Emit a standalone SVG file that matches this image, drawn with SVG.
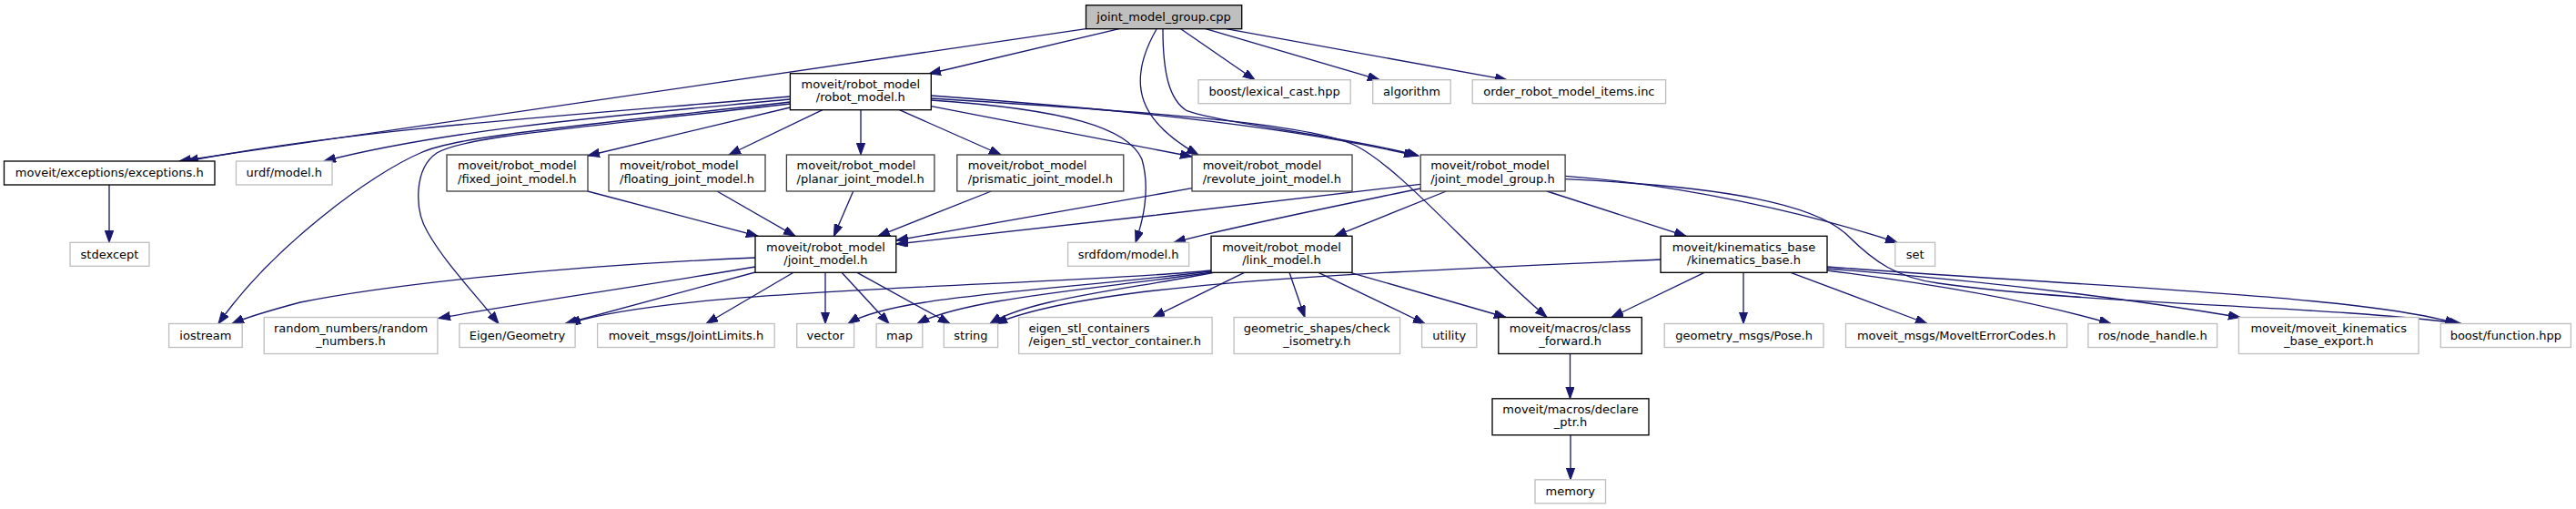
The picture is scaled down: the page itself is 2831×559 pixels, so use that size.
<svg xmlns="http://www.w3.org/2000/svg" width="2831" height="559" viewBox="0 0 2831 559">
<style>
rect{fill:#fff;stroke:#000;stroke-width:1.33}
.g rect{stroke:#bfbfbf}
.d rect{stroke:#404040}
.root rect{fill:#bfbfbf}
text{font-family:"DejaVu Sans","Liberation Sans",sans-serif;font-size:13px;fill:#000}
.m text{text-anchor:middle}
#edges path{fill:none;stroke:#191970;stroke-width:1.33;marker-end:url(#ah)}
</style>
<defs>
<marker id="ah" markerUnits="userSpaceOnUse" markerWidth="14" markerHeight="10" refX="13" refY="4.7" orient="auto">
<path d="M0,0 L13,4.7 L0,9.4 z" fill="#191970" stroke="#191970" stroke-width="1"/>
</marker>
</defs>
<rect x="0" y="0" width="2831" height="559" style="fill:#fff;stroke:none"/>
<g id="edges">
<path d="M1193.5,31.7 L197,177"/>
<path d="M1230,31.7 L1021,81"/>
<path d="M1271,32 C1235,95 1255,135 1317,170"/>
<path d="M1278,32 C1278,80 1285,110 1304.5,121.7 C1340,135 1480,150 1559,171"/>
<path d="M1297.7,31.7 L1379,87.7"/>
<path d="M1325,31.7 L1516,87.7"/>
<path d="M1347.5,31.7 L1656,87.7"/>
<path d="M868.4,106 C650,125 400,140 205,177"/>
<path d="M868.4,109 C700,125 500,140 356,177"/>
<path d="M868.4,112 C620,140 500,150 462,168 C410,190 300,270 240,355.5"/>
<path d="M868.4,114 C620,142 510,150 480,168 C455,185 455,230 470,255 C490,290 520,320 548,355.5"/>
<path d="M868.4,118 L646,171"/>
<path d="M904,120.7 L801,170"/>
<path d="M946,120.7 L946,170"/>
<path d="M988.4,120.7 L1100,170"/>
<path d="M1023.3,116.7 L1310,172"/>
<path d="M1023.3,105 C1200,118 1400,135 1556,171"/>
<path d="M1023.3,108 C1250,122 1440,135 1490,160 C1540,185 1620,280 1700,348.5"/>
<path d="M1023.3,110 C1170,120 1240,140 1255,175 C1265,210 1255,245 1248,266.3"/>
<path d="M120,203 L120,266.3"/>
<path d="M645.7,210 L833,259.3"/>
<path d="M788,210 L874,259.3"/>
<path d="M937.7,210 L916.4,259.3"/>
<path d="M1089.4,210 L965,259.3"/>
<path d="M1310,206.7 L985,264"/>
<path d="M1561.2,202.3 C1400,222 1150,250 985,268"/>
<path d="M1561.2,207 C1450,230 1350,250 1290,266.3"/>
<path d="M1589.4,210 L1467,259.3"/>
<path d="M1700,210 L1853,259.3"/>
<path d="M1720,193.3 C1850,203 1990,235 2085,266.3"/>
<path d="M1720,196.7 C1900,205 1995,225 2030,258 C2060,288 2085,305 2130,311 C2300,335 2550,335 2705,355.5"/>
<path d="M2008,293 C2300,315 2600,325 2700,355.5"/>
<path d="M2008,295 C2200,310 2350,330 2462,348.5"/>
<path d="M2008,297 C2150,315 2250,335 2320,355.5"/>
<path d="M1968,299.3 L2118,355.5"/>
<path d="M1916,299.3 L1916,355.5"/>
<path d="M1873,299.3 L1771,348.5"/>
<path d="M1825,285 C1500,300 1200,310 1094,355.5"/>
<path d="M1331,297 C1150,315 750,315 625,355.5"/>
<path d="M1331,298 C1150,320 980,325 932,355.5"/>
<path d="M1333,299 C1200,318 1060,328 1008,355.5"/>
<path d="M1335,299 C1240,318 1130,328 1088,355.5"/>
<path d="M1367.5,299.3 L1267,348.5"/>
<path d="M1417,299.3 L1434,348.5"/>
<path d="M1449,299.3 L1566,355.5"/>
<path d="M1484,299.3 L1655,348.5"/>
<path d="M830,283 C620,292 430,312 330,332 C300,340 272,348 255,355.5"/>
<path d="M830,293 C700,315 560,335 482,349.5"/>
<path d="M830,299 L621,355.5"/>
<path d="M872,299.3 L776,355.5"/>
<path d="M907,299.3 L907,355.5"/>
<path d="M925,299.3 L977,355.5"/>
<path d="M942,299.3 L1044,355.5"/>
<path d="M1725.5,388.5 L1725.5,437.8"/>
<path d="M1726,477.8 L1726,526.8"/>
</g>
<g id="n_cpp" class="root m"><rect x="1193.5" y="5.7" width="171.2" height="26"/><text x="1279.1" y="22.9">joint_model_group.cpp</text></g>
<g id="n_robot_model" class="m"><rect x="868.4" y="80.7" width="154.9" height="40"/><text x="945.85" y="96.9">moveit/robot_model</text><text x="945.85" y="111.2">/robot_model.h</text></g>
<g id="n_lexical" class="g m"><rect x="1317" y="87.7" width="167.2" height="26"/><text x="1400.6" y="104.9">boost/lexical_cast.hpp</text></g>
<g id="n_algorithm" class="g m"><rect x="1508.7" y="87.7" width="85.5" height="26"/><text x="1551.45" y="104.9">algorithm</text></g>
<g id="n_order" class="g m"><rect x="1618.2" y="87.7" width="212.4" height="26"/><text x="1724.4" y="104.9">order_robot_model_items.inc</text></g>
<g id="n_exceptions" class="m"><rect x="4.5" y="177" width="231.5" height="26"/><text x="120.25" y="194.2">moveit/exceptions/exceptions.h</text></g>
<g id="n_urdf" class="g m"><rect x="259.5" y="177" width="105.5" height="26"/><text x="312.25" y="194.2">urdf/model.h</text></g>
<g id="n_fixed" class="d"><rect x="491" y="170" width="155" height="40"/><text x="503" y="186.2">moveit/robot_model</text><text x="503" y="200.5">/fixed_joint_model.h</text></g>
<g id="n_floating" class="d"><rect x="669" y="170" width="172" height="40"/><text x="681" y="186.2">moveit/robot_model</text><text x="681" y="200.5">/floating_joint_model.h</text></g>
<g id="n_planar" class="d"><rect x="864.4" y="170" width="162.5" height="40"/><text x="875.6" y="186.2">moveit/robot_model</text><text x="875.6" y="200.5">/planar_joint_model.h</text></g>
<g id="n_prismatic" class="d"><rect x="1051.8" y="170" width="183" height="40"/><text x="1063.7" y="186.2">moveit/robot_model</text><text x="1063.7" y="200.5">/prismatic_joint_model.h</text></g>
<g id="n_revolute" class="d"><rect x="1310" y="170" width="176" height="40"/><text x="1321.7" y="186.2">moveit/robot_model</text><text x="1321.7" y="200.5">/revolute_joint_model.h</text></g>
<g id="n_jmg" class="d"><rect x="1561.2" y="170" width="158.9" height="40"/><text x="1572.2" y="186.2">moveit/robot_model</text><text x="1572.2" y="200.5">/joint_model_group.h</text></g>
<g id="n_stdexcept" class="g m"><rect x="77" y="266.3" width="87" height="26"/><text x="120.5" y="283.5">stdexcept</text></g>
<g id="n_joint_model" class="m"><rect x="830" y="259.3" width="154.8" height="40"/><text x="907.4" y="275.5">moveit/robot_model</text><text x="907.4" y="289.8">/joint_model.h</text></g>
<g id="n_srdfdom" class="g m"><rect x="1173.6" y="266.3" width="133.1" height="26"/><text x="1240.15" y="283.5">srdfdom/model.h</text></g>
<g id="n_link_model" class="m"><rect x="1331" y="259.3" width="155" height="40"/><text x="1408.5" y="275.5">moveit/robot_model</text><text x="1408.5" y="289.8">/link_model.h</text></g>
<g id="n_kinematics" class="m"><rect x="1825" y="259.3" width="183" height="40"/><text x="1916.5" y="275.5">moveit/kinematics_base</text><text x="1916.5" y="289.8">/kinematics_base.h</text></g>
<g id="n_set" class="g m"><rect x="2082.8" y="266.3" width="43.8" height="26"/><text x="2104.7" y="283.5">set</text></g>
<g id="n_iostream" class="g m"><rect x="185.6" y="355.5" width="80.6" height="26"/><text x="225.9" y="372.7">iostream</text></g>
<g id="n_random" class="g m"><rect x="290.2" y="348.5" width="190.7" height="40"/><text x="385.55" y="364.7">random_numbers/random</text><text x="385.55" y="379">_numbers.h</text></g>
<g id="n_eigen" class="g m"><rect x="504.9" y="355.5" width="127.2" height="26"/><text x="568.5" y="372.7">Eigen/Geometry</text></g>
<g id="n_jointlimits" class="g m"><rect x="656.6" y="355.5" width="194.6" height="26"/><text x="753.9" y="372.7">moveit_msgs/JointLimits.h</text></g>
<g id="n_vector" class="g m"><rect x="875.7" y="355.5" width="62.9" height="26"/><text x="907.15" y="372.7">vector</text></g>
<g id="n_map" class="g m"><rect x="963.1" y="355.5" width="50.7" height="26"/><text x="988.45" y="372.7">map</text></g>
<g id="n_string" class="g m"><rect x="1037.3" y="355.5" width="59.3" height="26"/><text x="1066.95" y="372.7">string</text></g>
<g id="n_eigen_stl" class="g"><rect x="1119.7" y="348.5" width="212.4" height="40"/><text x="1130.5" y="364.7">eigen_stl_containers</text><text x="1130.5" y="379">/eigen_stl_vector_container.h</text></g>
<g id="n_geometric" class="g m"><rect x="1356.1" y="348.5" width="182.5" height="40"/><text x="1447.35" y="364.7">geometric_shapes/check</text><text x="1447.35" y="379">_isometry.h</text></g>
<g id="n_utility" class="g m"><rect x="1562.6" y="355.5" width="60.2" height="26"/><text x="1592.7" y="372.7">utility</text></g>
<g id="n_class_forward" class="m"><rect x="1646.8" y="348.5" width="157.5" height="40"/><text x="1725.55" y="364.7">moveit/macros/class</text><text x="1725.55" y="379">_forward.h</text></g>
<g id="n_pose" class="g m"><rect x="1829.2" y="355.5" width="174.8" height="26"/><text x="1916.6" y="372.7">geometry_msgs/Pose.h</text></g>
<g id="n_errorcodes" class="g m"><rect x="2028.5" y="355.5" width="243.1" height="26"/><text x="2150.05" y="372.7">moveit_msgs/MoveItErrorCodes.h</text></g>
<g id="n_node_handle" class="g m"><rect x="2294.9" y="355.5" width="141.7" height="26"/><text x="2365.75" y="372.7">ros/node_handle.h</text></g>
<g id="n_export" class="g m"><rect x="2460.4" y="348.5" width="197.6" height="40"/><text x="2559.2" y="364.7">moveit/moveit_kinematics</text><text x="2559.2" y="379">_base_export.h</text></g>
<g id="n_function" class="g m"><rect x="2682.3" y="355.5" width="143.1" height="26"/><text x="2753.85" y="372.7">boost/function.hpp</text></g>
<g id="n_declare" class="m"><rect x="1640" y="437.8" width="172" height="40"/><text x="1726" y="454">moveit/macros/declare</text><text x="1726" y="468.3">_ptr.h</text></g>
<g id="n_memory" class="g m"><rect x="1687" y="526.8" width="77.5" height="26"/><text x="1725.75" y="544">memory</text></g>
</svg>
